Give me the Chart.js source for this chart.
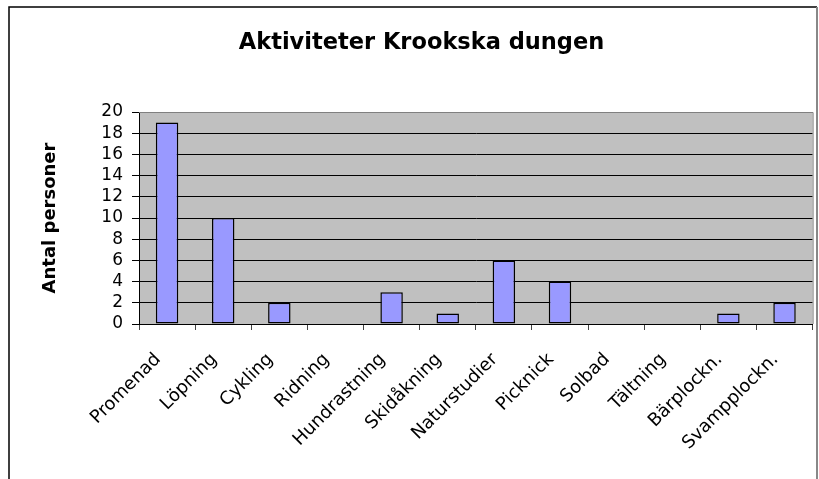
<!DOCTYPE html>
<html>
<head>
<meta charset="utf-8">
<title>Aktiviteter Krookska dungen</title>
<script src="https://cdn.jsdelivr.net/npm/chart.js@4.4.1/dist/chart.umd.min.js"></script>
<style>
  html, body { margin: 0; padding: 0; background: #fff; }
  #wrap { width: 819px; height: 479px; }
</style>
</head>
<body>
<div id="wrap"><canvas id="aktivitetChart" width="819" height="479"></canvas></div>
<script>
// data
const categories = ['Promenad', 'Löpning', 'Cykling', 'Ridning', 'Hundrastning', 'Skidåkning',
    'Naturstudier', 'Picknick', 'Solbad', 'Tältning', 'Bärplockn.', 'Svampplockn.'];
const antalPersoner = [19, 10, 2, 0, 3, 1, 6, 4, 0, 0, 1, 2];
const yMin = 0;
const yMax = 20;
const yStep = 2;

// white page, outer frame and grey plot area like the Excel chart
const excelFrame = {
    id: 'excelFrame',
    beforeDraw(chart) {
        const { ctx, chartArea: a } = chart;
        ctx.save();
        ctx.fillStyle = '#fff';
        ctx.fillRect(0, 0, chart.width, chart.height);
        ctx.strokeStyle = '#000';
        ctx.lineWidth = 1.5;
        ctx.beginPath();
        ctx.moveTo(9, chart.height);
        ctx.lineTo(9, 7);
        ctx.lineTo(817, 7);
        ctx.stroke();
        ctx.fillStyle = '#c0c0c0';
        ctx.fillRect(a.left, a.top, a.right - a.left, a.bottom - a.top);
        ctx.restore();
    },
    afterDraw(chart) {
        const { ctx, chartArea: a } = chart;
        ctx.save();
        ctx.strokeStyle = '#808080';
        ctx.lineWidth = 1;
        ctx.beginPath();
        ctx.moveTo(a.left, a.top + 0.5);
        ctx.lineTo(a.right + 0.5, a.top + 0.5);
        ctx.lineTo(a.right + 0.5, a.bottom);
        ctx.stroke();
        ctx.strokeStyle = '#888';
        ctx.lineWidth = 2;
        ctx.beginPath();
        ctx.moveTo(817, 7);
        ctx.lineTo(817, chart.height);
        ctx.stroke();
        ctx.restore();
    }
};

const ctx = document.getElementById('aktivitetChart').getContext('2d');

new Chart(ctx, {
    type: 'bar',
    data: {
        labels: categories,
        datasets: [{
            label: 'Antal personer',
            data: antalPersoner,
            backgroundColor: '#9999ff',
            borderColor: '#000',
            borderWidth: c => (c.raw === 0 ? 0 : 1.5),
            borderSkipped: false,
            barPercentage: 0.4,
            categoryPercentage: 1
        }]
    },
    options: {
        responsive: false,
        animation: false,
        layout: { padding: { left: 29, right: 5, top: 0, bottom: 0 } },
        plugins: {
            legend: { display: false },
            tooltip: { enabled: false },
            title: {
                display: true,
                text: 'Aktiviteter Krookska dungen',
                color: '#000',
                font: { family: 'DejaVu Sans', size: 22.5, weight: 'bold' },
                padding: { top: 30, bottom: 55 }
            }
        },
        scales: {
            x: {
                afterFit: s => { s.height = 155; },
                grid: { drawOnChartArea: false, drawTicks: true, tickLength: 6, color: '#444' },
                border: { color: '#000', width: 1 },
                ticks: {
                    color: '#000',
                    autoSkip: false,
                    minRotation: 45,
                    maxRotation: 45,
                    padding: 19,
                    labelOffset: -9,
                    font: { family: 'DejaVu Sans', size: 18 }
                }
            },
            y: {
                min: yMin,
                max: yMax,
                afterFit: s => { s.width = 110; },
                grid: { color: '#000', lineWidth: 1, tickLength: 7 },
                border: { color: '#000', width: 1 },
                ticks: {
                    stepSize: yStep,
                    autoSkip: false,
                    color: '#000',
                    padding: 9,
                    font: { family: 'DejaVu Sans', size: 17 }
                },
                title: {
                    display: true,
                    text: 'Antal personer',
                    color: '#000',
                    font: { family: 'DejaVu Sans', size: 18, weight: 'bold' },
                    padding: { top: 11, bottom: 0 }
                }
            }
        }
    },
    plugins: [excelFrame]
});
</script>
</body>
</html>
